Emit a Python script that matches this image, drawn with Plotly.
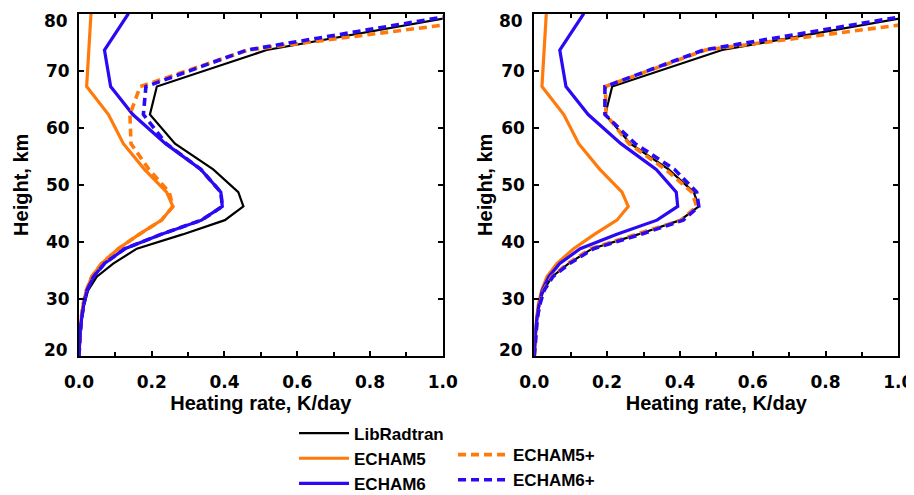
import plotly.graph_objects as go

# Height levels (km)
height_km = [20, 22, 24, 26.5, 29, 31.5, 33.9, 36.2, 38.8, 41.3, 43.8, 46.2, 48.7, 52.7, 57.2, 62.3, 67.2, 73.6, 80]

# Heating rates (K/day)
libradtran = [0.0, 0.002, 0.004, 0.008, 0.014, 0.025, 0.049, 0.094, 0.159, 0.285, 0.401, 0.452, 0.438, 0.369, 0.264, 0.195, 0.214, 0.516, 1.08]
echam5     = [0.0, 0.001, 0.003, 0.006, 0.011, 0.020, 0.035, 0.062, 0.108, 0.165, 0.227, 0.258, 0.241, 0.180, 0.122, 0.081, 0.021, 0.027, 0.033]
echam6     = [0.0, 0.001, 0.003, 0.007, 0.013, 0.022, 0.040, 0.070, 0.126, 0.225, 0.337, 0.394, 0.390, 0.335, 0.238, 0.148, 0.087, 0.070, 0.136]

# Left panel "+" versions
echam5p_left = [0.0, 0.001, 0.003, 0.006, 0.011, 0.020, 0.035, 0.062, 0.108, 0.165, 0.227, 0.258, 0.248, 0.192, 0.143, 0.140, 0.168, 0.465, 1.25]
echam6p_left = [0.0, 0.001, 0.003, 0.007, 0.013, 0.022, 0.040, 0.070, 0.126, 0.225, 0.337, 0.394, 0.390, 0.335, 0.240, 0.177, 0.184, 0.462, 1.06]

# Right panel "+" versions
echam5p_right = [0.0, 0.002, 0.004, 0.008, 0.014, 0.025, 0.048, 0.092, 0.155, 0.280, 0.403, 0.446, 0.433, 0.360, 0.260, 0.197, 0.195, 0.470, 1.25]
echam6p_right = [0.0, 0.002, 0.004, 0.008, 0.015, 0.027, 0.051, 0.097, 0.163, 0.292, 0.409, 0.452, 0.446, 0.385, 0.277, 0.194, 0.194, 0.465, 1.06]

x_ticks = [0.0, 0.2, 0.4, 0.6, 0.8, 1.0]
x_ticklabels = ["0.0", "0.2", "0.4", "0.6", "0.8", "1.0"]
y_ticks = [20, 30, 40, 50, 60, 70, 80]
y_ticklabels = ["20", "30", "40", "50", "60", "70", "80"]

BLACK = "#000000"
ORANGE = "#FF7A0A"
BLUE = "#2A0AF5"

fig = go.Figure()

def add_panel(xa, ya, e5p, e6p, show):
    specs = [
        ("LibRadtran", libradtran, BLACK, 2.2, "solid", "legend"),
        ("ECHAM5", echam5, ORANGE, 3.2, "solid", "legend"),
        ("ECHAM6", echam6, BLUE, 3.2, "solid", "legend"),
        ("ECHAM5+", e5p, ORANGE, 3.6, "8px,5px", "legend2"),
        ("ECHAM6+", e6p, BLUE, 3.6, "8px,5px", "legend2"),
    ]
    for name, vals, col, w, dash, leg in specs:
        fig.add_trace(go.Scatter(
            x=vals, y=height_km, mode="lines", name=name,
            line=dict(color=col, width=w, dash=dash),
            xaxis=xa, yaxis=ya, showlegend=show, legend=leg,
            cliponaxis=True,
        ))

add_panel("x", "y", echam5p_left, echam6p_left, True)
add_panel("x2", "y2", echam5p_right, echam6p_right, False)

tick_font = dict(family="DejaVu Sans", size=17, color="black", weight="bold")
title_font = dict(family="Liberation Sans", size=20, color="black", weight="bold")

def xaxis_cfg(domain, anchor):
    return dict(
        domain=domain, anchor=anchor, range=[0, 1.0], automargin=False,
        tickvals=x_ticks, ticktext=x_ticklabels, ticklabeloverflow="allow",
        showline=True, linewidth=2, linecolor="black", mirror="allticks",
        ticks="inside", ticklen=5, tickwidth=2, tickcolor="black",
        minor=dict(dtick=0.1, tick0=0, ticks="inside", ticklen=4, tickwidth=2, tickcolor="black"),
        showgrid=False, zeroline=False, tickfont=tick_font,
        ticklabelstandoff=10,
        title=dict(text="Heating rate, K/day", font=title_font, standoff=0),
    )

# inner y tick labels go on the axis; the end labels (20, 80) are nudged
# inward as in the original figure, so they are drawn as annotations
inner_text = y_ticklabels[1:-1]

def yaxis_cfg(anchor, standoff):
    return dict(
        domain=[0.2854, 0.9887], anchor=anchor, range=[20, 80], automargin=False,
        tickvals=y_ticks, ticktext=[""] + inner_text + [""], ticklabeloverflow="allow",
        showline=True, linewidth=2, linecolor="black", mirror="allticks",
        ticks="inside", ticklen=5, tickwidth=2, tickcolor="black",
        showgrid=False, zeroline=False, tickfont=tick_font,
        ticklabelstandoff=4,
        title=dict(text="Height, km", font=title_font, standoff=standoff),
    )

annotations = []
for xref, yref in [("x domain", "y"), ("x2 domain", "y2")]:
    for val, lab, shift in [(y_ticks[0], y_ticklabels[0], 6), (y_ticks[-1], y_ticklabels[-1], -7)]:
        annotations.append(dict(
            x=0, xref=xref, y=val, yref=yref, text=lab, showarrow=False,
            xanchor="right", yanchor="middle", xshift=-9, yshift=shift,
            font=tick_font,
        ))

legend_font = dict(family="Liberation Sans", size=17, color="black", weight="bold")

fig.update_layout(
    width=906, height=487,
    margin=dict(l=0, r=0, t=0, b=0, autoexpand=False),
    paper_bgcolor="white", plot_bgcolor="white",
    xaxis=xaxis_cfg([0.07837, 0.4798], "y"),
    yaxis=yaxis_cfg("x", 12),
    xaxis2=xaxis_cfg([0.5809, 0.9827], "y2"),
    yaxis2=yaxis_cfg("x2", 3),
    annotations=annotations,
    legend=dict(x=0.3157, y=0.163, xanchor="left", yanchor="top",
                font=legend_font, bgcolor="rgba(0,0,0,0)", itemwidth=50,
                tracegroupgap=0),
    legend2=dict(x=0.4912, y=0.119, xanchor="left", yanchor="top",
                 font=legend_font, bgcolor="rgba(0,0,0,0)", itemwidth=50,
                 tracegroupgap=0),
    showlegend=True,
)

fig.write_html("out.html")
